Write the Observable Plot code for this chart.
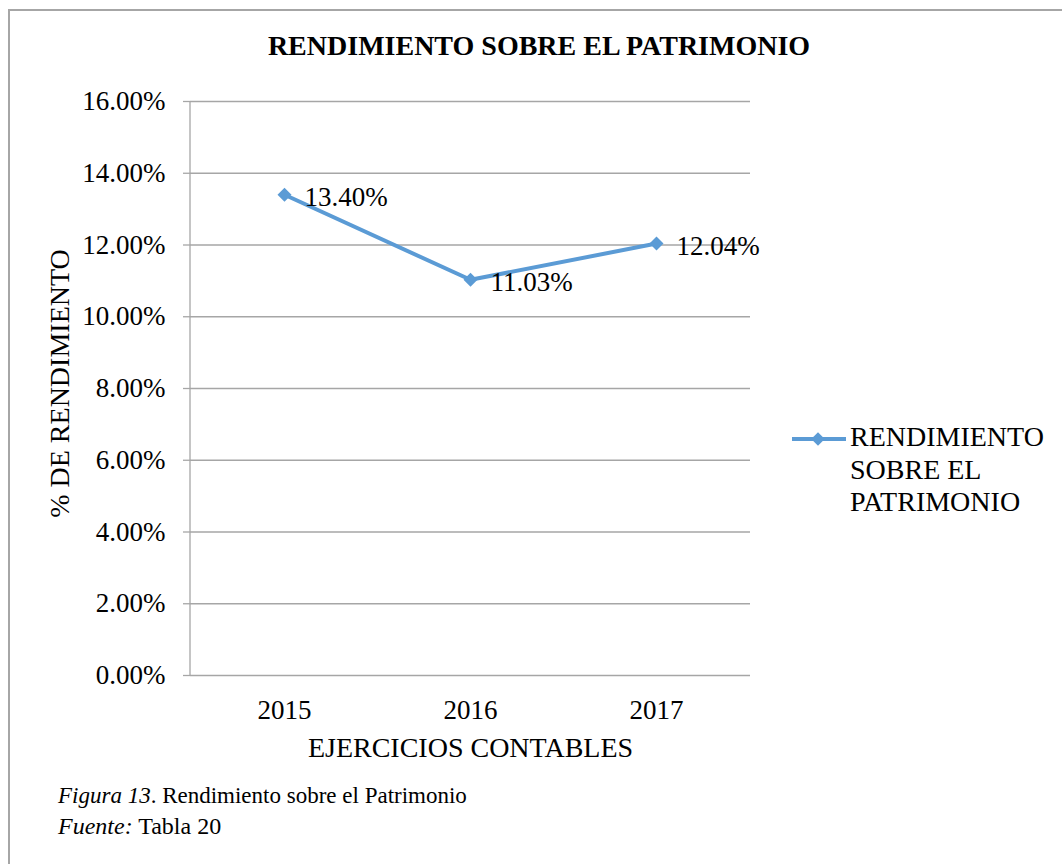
<!DOCTYPE html>
<html>
<head>
<meta charset="utf-8">
<script src="https://cdn.jsdelivr.net/npm/d3@7"></script>
<script src="https://cdn.jsdelivr.net/npm/@observablehq/plot@0.6"></script>
<style>
  html, body { margin: 0; padding: 0; background: #fff; }
  body { width: 1062px; height: 864px; overflow: hidden; position: relative;
         font-family: "Liberation Serif", "Times New Roman", serif; color: #000; }
  #frame { position: absolute; left: 8px; top: 9px; width: 1100px; height: 900px;
           border-top: 2px solid #a6a6a6; border-left: 2px solid #a6a6a6; }
  #title { position: absolute; top: 30px; left: 539px; transform: translateX(-50%);
           font-size: 28px; line-height: 32px; font-weight: bold; white-space: nowrap; }
  #chart { position: absolute; left: 0; top: 70px; }
  #legend-swatch { position: absolute; left: 791px; top: 431px; }
  #legend-text { position: absolute; left: 850px; top: 421px; font-size: 28px; line-height: 32.5px; }
  .cap { position: absolute; left: 58px; line-height: 28px; white-space: nowrap; }
</style>
</head>
<body>
<div id="frame"></div>
<div id="title"></div>
<div id="chart"></div>
<svg id="legend-swatch" width="56" height="16"></svg>
<div id="legend-text"></div>
<div class="cap" id="cap1" style="top:782px;font-size:23px"><i>Figura 13</i>. Rendimiento sobre el Patrimonio</div>
<div class="cap" id="cap2" style="top:812px;font-size:24px"><i>Fuente:</i> Tabla 20</div>
<script>
const chartTitle = "RENDIMIENTO SOBRE EL PATRIMONIO";
const seriesName = "RENDIMIENTO SOBRE EL PATRIMONIO";
const years = ["2015", "2016", "2017"];
const values = [13.40, 11.03, 12.04];
const yTicks = [0, 2, 4, 6, 8, 10, 12, 14, 16];
const xTitle = "EJERCICIOS CONTABLES";
const yTitle = "% DE RENDIMIENTO";
const lineColor = "#5b9bd5";
const gridColor = "#a6a6a6";

const data = years.map((year, i) => ({year, value: values[i]}));
const pct = v => v.toFixed(2) + "%";

document.getElementById("title").textContent = chartTitle;
document.getElementById("legend-text").innerHTML = "RENDIMIENTO<br>SOBRE EL<br>PATRIMONIO";

const yAxisLine = (index, scales, values, dims) => {
  const g = d3.create("svg:line")
    .attr("x1", dims.marginLeft).attr("x2", dims.marginLeft)
    .attr("y1", scales.y(0)).attr("y2", scales.y(16))
    .attr("stroke", gridColor).attr("stroke-width", 1.3);
  return g.node();
};

const chart = Plot.plot({
  width: 800,
  height: 700,
  marginLeft: 190,
  marginRight: 50,
  marginTop: 31,
  marginBottom: 95,
  style: {fontFamily: "'Liberation Serif', 'Times New Roman', serif", fontSize: "27px", color: "#000", background: "transparent", overflow: "visible"},
  x: {type: "point", domain: years, padding: 0.5, label: null},
  y: {domain: [0, 16], label: null},
  marks: [
    Plot.gridY(yTicks, {stroke: gridColor, strokeOpacity: 1, strokeWidth: 1.3}),
    yAxisLine,
    Plot.axisY(yTicks, {tickSize: 7, tickPadding: 18, tickFormat: pct, stroke: gridColor, strokeWidth: 1.3, fill: "#000", label: null}),
    Plot.axisX({tickSize: 0, tickPadding: 24, fill: "#000", label: null}),
    Plot.line(data, {x: "year", y: "value", stroke: lineColor, strokeWidth: 4}),
    Plot.dot(data, {x: "year", y: "value", symbol: "square", rotate: 45, r: 5.6, fill: lineColor}),
    Plot.text(data, {x: "year", y: "value", text: d => pct(d.value), textAnchor: "start", dx: 20, dy: 3, fill: "#000"}),
    Plot.text([xTitle], {text: d => d, frameAnchor: "bottom", textAnchor: "middle", lineAnchor: "middle", dy: 73, fontSize: 28, fill: "#000"}),
    Plot.text([yTitle], {text: d => d, frameAnchor: "left", textAnchor: "middle", lineAnchor: "middle", rotate: -90, dx: -130, dy: -5, fontSize: 28, fill: "#000"})
  ]
});
document.getElementById("chart").appendChild(chart);

const sw = d3.select("#legend-swatch");
sw.append("line").attr("x1", 1).attr("x2", 55).attr("y1", 8).attr("y2", 8)
  .attr("stroke", lineColor).attr("stroke-width", 4);
sw.append("rect").attr("x", 27 - 4.8).attr("y", 8 - 4.8).attr("width", 9.6).attr("height", 9.6)
  .attr("fill", lineColor).attr("transform", "rotate(45 27 8)");
</script>
</body>
</html>
